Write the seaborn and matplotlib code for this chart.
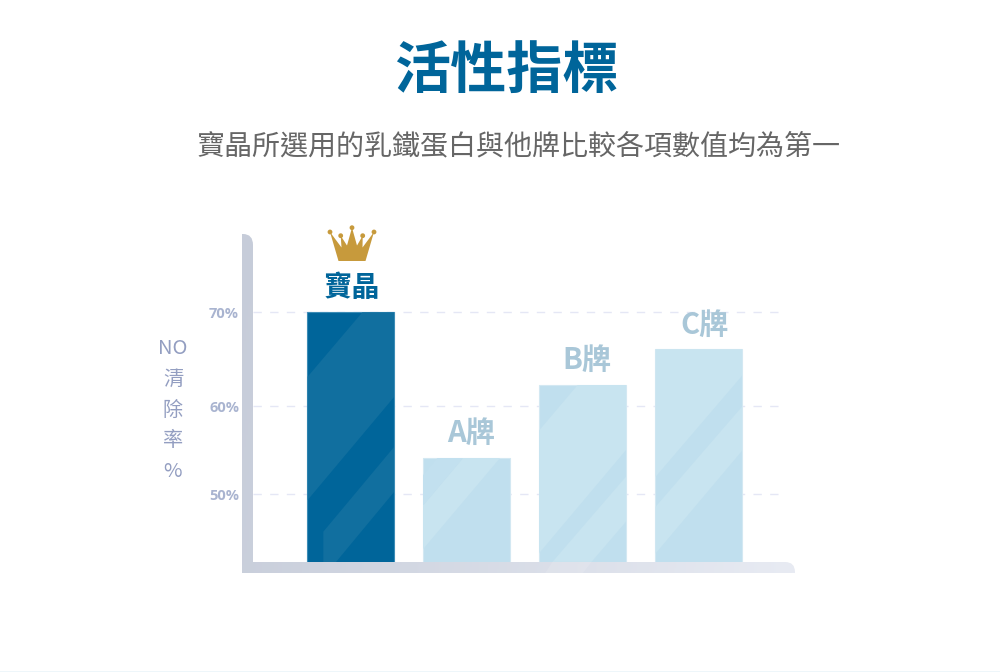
import numpy as np
import pandas as pd
import seaborn as sns
import matplotlib
matplotlib.use("Agg")
import matplotlib.pyplot as plt
from matplotlib.path import Path
from matplotlib.patches import PathPatch, Polygon, Circle, Rectangle
from matplotlib.colors import LinearSegmentedColormap

# ---------- data ----------
brands = ["寶晶", "A牌", "B牌", "C牌"]
no_clearance = [70.0, 53.96, 61.98, 65.9]
tick_values = [50.0, 59.67, 70.0]
tick_labels = ["50%", "60%", "70%"]
title = "活性指標"
subtitle = "寶晶所選用的乳鐵蛋白與他牌比較各項數值均為第一"
ylabel_text = "NO\n清\n除\n率\n%"

BLUE = "#00659a"
sns.set_theme(style="white")
CJK = ["Noto Sans CJK TC", "DejaVu Sans"]
plt.rcParams["font.family"] = CJK

W, H = 1000, 672
fig = plt.figure(figsize=(W / 100, H / 100), dpi=100, facecolor="white")

# main axes: x 253..785 px, y 562 (base) .. 234 px
L, R, T, B = 253, 785, 234, 562
ax = fig.add_axes([L / W, 1 - B / H, (R - L) / W, (B - T) / H], facecolor="none", zorder=2)
px_per_pct = 9.1
ymin = 50 - (B - 494) / px_per_pct
ymax = 50 + (494 - T) / px_per_pct

df = pd.DataFrame({"brand": brands, "value": no_clearance})
sns.barplot(data=df, x="brand", y="value", hue="brand", order=brands, hue_order=brands,
            palette=[BLUE, "#c0dfee", "#c0dfee", "#c0dfee"], width=0.745, legend=False,
            saturation=1, ax=ax, zorder=3)
spacing = 116.1
c0 = 350.4
ax.set_xlim((L - c0) / spacing, (R - c0) / spacing)
ax.set_ylim(ymin, ymax)
ax.set_xlabel("")
ax.set_xticks([])
ax.set_yticks(tick_values, tick_labels)
ax.tick_params(axis="y", length=0, pad=10, labelcolor="#a9b4d0", labelsize=10.5)
for t in ax.get_yticklabels():
    t.set_fontweight("bold")
    t.set_family(["Open Sans", "DejaVu Sans"])
ax.yaxis.grid(True, color="#e5e7f5", linewidth=1, linestyle=(0, (6, 6)), zorder=0)
ax.set_axisbelow(True)
sns.despine(ax=ax, left=True, bottom=True)
ax.set_ylabel(ylabel_text, rotation=0, color="#939ec1", fontsize=14.5, linespacing=1.6,
              ha="center", va="center")
ax.yaxis.set_label_coords((173 - L) / (R - L), (B - 410) / (B - T))

bars = list(ax.patches)
edges = ["#3c8cb6", "#d3e8f2", "#d3e8f2", "#d3e8f2"]
for bar, e in zip(bars, edges):
    bar.set_edgecolor(e)
    bar.set_linewidth(0.8)

# value labels above each bar
label_colors = [BLUE, "#a9c7d8", "#a9c7d8", "#a9c7d8"]
label_sizes = [20.3, 21, 21, 21]
label_dx = [1.0, 3.6, 3, 4.4]
label_dy = [17.3, 17.8, 17.8, 17.8]
for i, (b, v) in enumerate(zip(brands, no_clearance)):
    ax.annotate(b, (i, v), xytext=(label_dx[i], label_dy[i]), textcoords="offset points",
                ha="center", va="center", color=label_colors[i], fontsize=label_sizes[i],
                fontweight="bold", zorder=5)

# ---------- decoration overlays in pixel space ----------
fg = fig.add_axes([0, 0, 1, 1], zorder=3, facecolor="none")
fg.set_xlim(0, W); fg.set_ylim(H, 0); fg.axis("off")

# L-shaped axis with diagonal gradient
verts = [(242, 573), (242, 234), (243, 234), (253, 234), (253, 245), (253, 562), (785, 562),
         (795, 562), (795, 572), (795, 573), (242, 573)]
codes = [Path.MOVETO, Path.LINETO, Path.LINETO, Path.CURVE3, Path.CURVE3, Path.LINETO, Path.LINETO,
         Path.CURVE3, Path.CURVE3, Path.LINETO, Path.CLOSEPOLY]
axis_path = Path(verts, codes)
cmap = LinearSegmentedColormap.from_list("axisgrad", ["#c6ccd9", "#e8ebf3"])
gx, gy = np.meshgrid(np.linspace(0, 1, 256), np.linspace(0, 1, 256))
grad = 0.9 * gx + 0.1 * gy
im = fg.imshow(grad, extent=(242, 795, 573, 234), cmap=cmap, vmin=0, vmax=1, aspect="auto", zorder=1)
fg.set_xlim(0, W); fg.set_ylim(H, 0)
clip = PathPatch(axis_path, transform=fg.transData, facecolor="none", edgecolor="none")
fg.add_patch(clip)
im.set_clip_path(clip)

# glass-like stripes, measured from the bar shapes
def rel(x0, y0, pts):
    return [(x0 + x / 3, y0 + y / 3) for x, y in pts]

stripes = {
    0: [("#116f9f", [(397, 277), (493, 277), (493, 530), (233, 840), (233, 470)]),
        ("#116f9f", [(493, 680), (280, 935), (280, 1026), (318, 1026), (493, 815)])],
    1: [("#c2e0ef", [(622, 714), (700, 714), (577, 860), (577, 768)]),
        ("#c8e4f0", [(700, 714), (810, 714), (577, 990), (577, 860)])],
}
for i, shapes in stripes.items():
    for col, pts in shapes:
        p = Polygon(rel(230, 220, pts), closed=True, facecolor=col, edgecolor="none", zorder=2)
        fg.add_patch(p)
        p.set_clip_path(bars[i])

stripes2 = {
    2: [[(203, 255), (348, 255), (348, 450), (87, 760), (87, 392)],
        [(348, 530), (128, 785), (245, 785), (348, 665)]],
    3: [[(437, 148), (698, 148), (698, 225), (437, 530)],
        [(698, 318), (698, 450), (437, 760), (437, 620)]],
}
for i, shapes in stripes2.items():
    for pts in shapes:
        p = Polygon(rel(510, 300, pts), closed=True, facecolor="#c8e4f0", edgecolor="none", zorder=2)
        fg.add_patch(p)
        p.set_clip_path(bars[i])

# faint continuation of the B-bar stripe over the axis
fg.add_patch(Polygon(rel(510, 300, [(128, 785), (245, 785), (218, 820), (105, 820)]), closed=True,
                     facecolor="white", alpha=0.12, edgecolor="none", zorder=2))

# crown
GOLD = "#c79a3c"
crown = [(338.5, 261), (330, 232), (341.5, 247.5), (340.7, 235.7), (347, 245.5), (352, 227.7),
         (357, 245.5), (362.7, 235.7), (362.5, 247.5), (374, 232), (365.5, 261)]
fg.add_patch(Polygon(crown, closed=True, facecolor=GOLD, edgecolor="none", zorder=4))
for cx, cy in [(330, 232), (340.7, 235.7), (352, 227.7), (362.7, 235.7), (374, 232)]:
    fg.add_patch(Circle((cx, cy), 2.4, facecolor=GOLD, edgecolor="none", zorder=4))

# faint rule along the bottom edge of the picture
fg.add_patch(Rectangle((0, 671), W, 1, facecolor="#eef6fa", edgecolor="none", zorder=1))

# titles
fig.text(0.506, 1 - 72 / H, title, ha="center", va="center", color=BLUE, fontsize=40.4, fontweight="bold")
fig.text(0.519, 1 - 146 / H, subtitle, ha="center", va="center", color="#666666", fontsize=20.2)

fig.savefig("out.png", dpi=100)
